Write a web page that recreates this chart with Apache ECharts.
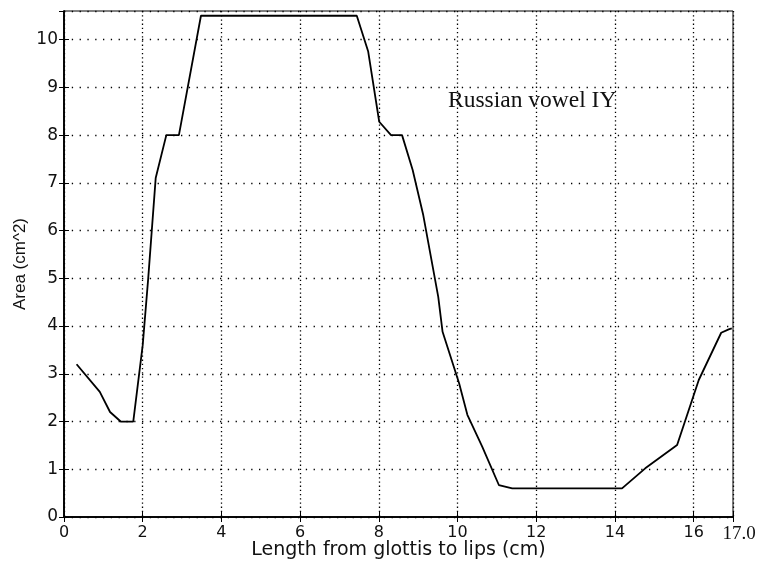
<!DOCTYPE html>
<html>
<head>
<meta charset="utf-8">
<script src="https://cdn.jsdelivr.net/npm/echarts@6/dist/echarts.min.js"></script>
<style>
  html, body { margin: 0; padding: 0; background: #fff; }
  #main { width: 763px; height: 562px; }
</style>
</head>
<body>
<div id="main"></div>
<script>
// length from glottis (cm)
var lengthCm = [0.32, 0.91, 1.17, 1.44, 1.76, 2.0, 2.14, 2.33, 2.6, 2.92, 3.48, 7.44, 7.73, 8.01, 8.31, 8.59, 8.86, 9.13, 9.51, 9.62, 10.04, 10.25, 10.63, 11.05, 11.39, 14.18, 14.77, 15.58, 16.13, 16.7, 16.89, 16.97];
// area (cm^2)
var areaCm2 = [3.2, 2.62, 2.2, 2.0, 2.0, 3.6, 5.0, 7.1, 8.0, 8.0, 10.5, 10.5, 9.75, 8.28, 8.0, 8.0, 7.27, 6.32, 4.61, 3.88, 2.8, 2.14, 1.47, 0.67, 0.6, 0.6, 1.02, 1.51, 2.87, 3.86, 3.93, 3.95];

var chartTitle = 'Russian vowel IY';
var xName = 'Length from glottis to lips (cm)';
var yName = 'Area (cm^2)';

var points = lengthCm.map(function (x, i) { return [x, areaCm2[i]]; });

var myChart = echarts.init(document.getElementById('main'));

var sans = 'DejaVu Sans';
var gridV = { show: true, lineStyle: { color: '#000', width: 1.3, type: [1.3, 2.9] } };
var gridH = { show: true, lineStyle: { color: '#000', width: 1.3, type: [1.3, 6.5] } };

myChart.setOption({
  animation: false,
  backgroundColor: '#fff',
  grid: {
    left: 64, right: 30, top: 11, bottom: 45,
    outerBoundsMode: 'none',
    containLabel: false,
    show: true, borderColor: '#000', borderWidth: 1
  },
  graphic: [{
    type: 'text',
    left: 448, top: 89,
    style: { text: chartTitle, font: '23.5px "Liberation Serif"', fill: '#111' }
  }],
  xAxis: [{
    type: 'value',
    min: 0, max: 17, interval: 2,
    name: xName,
    nameLocation: 'middle',
    nameGap: 24,
    nameMoveOverlap: false,
    nameTextStyle: { fontFamily: sans, fontSize: 19, color: '#111' },
    axisLine: { show: true, lineStyle: { color: '#000', width: 1.5 } },
    axisTick: { show: true, inside: true, length: 5, lineStyle: { color: '#000' } },
    axisLabel: {
      fontFamily: sans, fontSize: 16, color: '#111', margin: 8,
      showMaxLabel: true,
      formatter: function (v) {
        return v === 17 ? '{s|17.0}' : String(v);
      },
      rich: { s: { fontFamily: 'Liberation Serif', fontSize: 19, color: '#111', padding: [0, 0, 0, 12] } }
    },
    splitLine: gridV
  }, {
    type: 'value', position: 'top',
    min: 0, max: 17, interval: 2,
    axisLine: { show: true, lineStyle: { color: '#000', width: 1.5 } },
    axisTick: { show: true, inside: true, length: 5, lineStyle: { color: '#000' } },
    axisLabel: { show: false },
    splitLine: { show: false }
  }],
  yAxis: [{
    type: 'value',
    min: 0, max: 10.6, interval: 1,
    name: yName,
    nameLocation: 'middle',
    nameGap: 35,
    nameMoveOverlap: false,
    nameTextStyle: { fontFamily: 'Liberation Sans', fontSize: 17, color: '#111' },
    axisLine: { show: true, lineStyle: { color: '#000', width: 1.5 } },
    axisTick: { show: true, inside: true, length: 5, lineStyle: { color: '#000' } },
    axisLabel: { fontFamily: sans, fontSize: 17, color: '#111', margin: 6, showMaxLabel: false },
    splitLine: gridH
  }, {
    type: 'value', position: 'right',
    min: 0, max: 10.6, interval: 1,
    axisLine: { show: true, lineStyle: { color: '#000', width: 1.5 } },
    axisTick: { show: true, inside: true, length: 5, lineStyle: { color: '#000' } },
    axisLabel: { show: false },
    splitLine: { show: false }
  }],
  series: [{
    type: 'line',
    data: points,
    showSymbol: false,
    symbol: 'none',
    lineStyle: { color: '#000', width: 1.8 }
  }]
});
</script>
</body>
</html>
